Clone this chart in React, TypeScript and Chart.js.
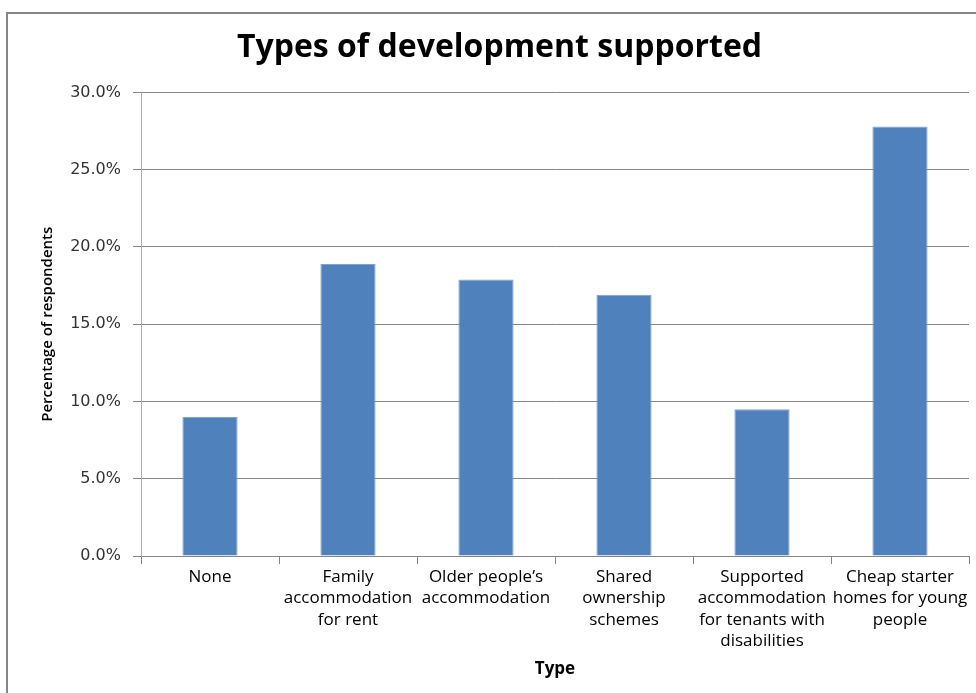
import React, { useEffect, useRef } from "react";
import { Chart, registerables } from "chart.js";

Chart.register(...registerables);

const categories: string[][] = [
  ["None"],
  ["Family", "accommodation", "for rent"],
  ["Older people\u2019s", "accommodation"],
  ["Shared", "ownership", "schemes"],
  ["Supported", "accommodation", "for tenants with", "disabilities"],
  ["Cheap starter", "homes for young", "people"],
];
const percentages: number[] = [9.0, 18.9, 17.9, 16.9, 9.5, 27.8];
const yMax = 30;
const yStep = 5;
const titleText = "Types of development supported";
const yTitle = "Percentage of respondents";
const xTitle = "Type";

const borderPlugin = {
  id: "outerBorder",
  beforeDraw(chart: any) {
    const ctx = chart.ctx;
    ctx.save();
    ctx.fillStyle = "#ffffff";
    ctx.fillRect(0, 0, chart.width, chart.height);
    ctx.strokeStyle = "#868686";
    ctx.lineWidth = 2;
    ctx.strokeRect(7, 13, chart.width + 20, chart.height + 20);
    ctx.restore();
  },
};

export default function App() {
  const ref = useRef<HTMLCanvasElement | null>(null);
  useEffect(() => {
    if (!ref.current) return;
    const chart = new Chart(ref.current, {
      type: "bar",
      data: {
        labels: categories,
        datasets: [
          {
            data: percentages,
            backgroundColor: "#4F81BD",
            borderColor: "#7FA3CF",
            borderWidth: 1,
            categoryPercentage: 1,
            barPercentage: 0.4,
          },
        ],
      },
      plugins: [borderPlugin],
      options: {
        animation: false,
        responsive: false,
        devicePixelRatio: 1,
        layout: { padding: { left: 30, right: 7, top: 0, bottom: 0 } },
        plugins: {
          legend: { display: false },
          tooltip: { enabled: false },
          title: {
            display: true,
            text: titleText,
            color: "#000000",
            font: { family: "'Open Sans', sans-serif", size: 32, weight: "bold", lineHeight: 1.2 },
            padding: { top: 29, bottom: 25 },
          },
        },
        scales: {
          x: {
            offset: true,
            grid: {
              display: true,
              offset: true,
              drawOnChartArea: false,
              drawTicks: true,
              tickLength: 8,
              color: "#868686",
            },
            border: { display: true, color: "#868686", width: 1 },
            ticks: {
              color: "#000000",
              font: { family: "'Open Sans', sans-serif", size: 17, lineHeight: 1.24 },
              padding: 3,
              maxRotation: 0,
              autoSkip: false,
            },
            title: {
              display: true,
              text: xTitle,
              color: "#000000",
              font: { family: "'Open Sans', sans-serif", size: 17, weight: "bold" },
              padding: { top: 0, bottom: 14 },
            },
            afterFit: (scale: any) => {
              scale.height = 137;
            },
          },
          y: {
            min: 0,
            max: yMax,
            grid: {
              color: "#868686",
              tickLength: 8,
              drawTicks: true,
            },
            border: { display: true, color: "#B0B0B0", width: 1 },
            ticks: {
              stepSize: yStep,
              color: "#333333",
              padding: 12,
              font: { family: "'DejaVu Sans', sans-serif", size: 16 },
              callback: (v: any) => Number(v).toFixed(1) + "%",
            },
            title: {
              display: true,
              text: yTitle,
              color: "#000000",
              font: { family: "'Open Sans', sans-serif", size: 15, weight: "600" },
              padding: { top: 9, bottom: 0 },
            },
            afterFit: (scale: any) => {
              scale.width = 111;
            },
          },
        },
      },
    });
    return () => chart.destroy();
  }, []);
  return (
    <div style={{ position: "fixed", left: 0, top: 0, width: 976, height: 693, background: "#fff" }}>
      <canvas ref={ref} width={976} height={693} style={{ width: 976, height: 693, display: "block" }} />
    </div>
  );
}
